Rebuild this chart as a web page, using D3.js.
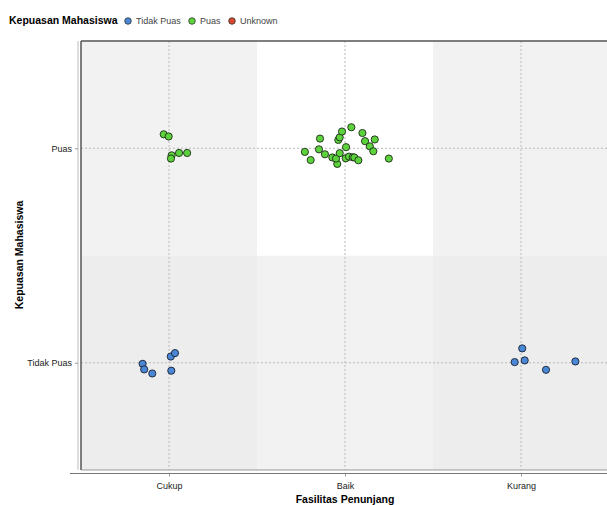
<!DOCTYPE html>
<html>
<head>
<meta charset="utf-8">
<script src="https://cdn.jsdelivr.net/npm/d3@7"></script>
<style>
  body { margin: 0; background: #fff; font-family: "Liberation Sans", Arial, sans-serif; }
  .tick text { font-size: 9px; fill: #222; }
  .grid line { stroke: #b8b8b8; stroke-dasharray: 2,2; }
</style>
</head>
<body>
<script>
var w = 607;
var h = 505;

var xCategories = ["Cukup", "Baik", "Kurang"];
var yCategories = ["Tidak Puas", "Puas"];
var legendLabels = ["Tidak Puas", "Puas", "Unknown"];
var legendColors = ["#4a88d6", "#5cd23c", "#d9482c"];

// jittered positions (category index + jitter)
var puasX = [-0.030, -0.002, 0.015, 0.011, 0.057, 0.103,
  0.772, 0.805, 0.858, 0.852, 0.886, 0.928, 0.956, 0.949, 0.970, 0.962, 0.970, 0.983,
  1.006, 1.036, 1.004, 1.023, 1.044, 1.053, 1.076, 1.099, 1.114, 1.141, 1.161, 1.169, 1.249];
var puasY = [1.065, 1.055, 0.967, 0.952, 0.978, 0.978,
  0.983, 0.945, 1.045, 0.995, 0.972, 0.957, 0.927, 0.952, 0.977, 1.039, 1.051, 1.078,
  1.005, 1.098, 0.953, 0.961, 0.958, 0.957, 0.944, 1.071, 1.033, 1.009, 0.986, 1.041, 0.952];
var tidakX = [-0.150, -0.141, -0.095, 0.010, 0.034, 0.013,
  2.007, 1.964, 2.021, 2.142, 2.309];
var tidakY = [-0.005, -0.031, -0.050, 0.029, 0.045, -0.037,
  0.067, 0.003, 0.011, -0.033, 0.006];

var pLeft = 81, pTop = 41, pRight = 609, pBottom = 470;

var svg = d3.select("body").append("svg")
    .attr("width", w)
    .attr("height", h);

var x = d3.scaleLinear().domain([-0.5, 2.5]).range([pLeft, pRight]);
var y = d3.scaleLinear().domain([-0.5, 1.5]).range([pBottom, pTop]);

// background cells
var cellFill = [["#ecedec", "#f2f2f2", "#ecedec"], ["#f2f2f2", "#ffffff", "#f2f2f2"]];
yCategories.forEach(function(yc, j) {
  xCategories.forEach(function(xc, i) {
    svg.append("rect")
      .attr("x", x(i - 0.5))
      .attr("y", y(j + 0.5))
      .attr("width", x(i + 0.5) - x(i - 0.5))
      .attr("height", y(j - 0.5) - y(j + 0.5))
      .attr("fill", cellFill[j][i]);
  });
});

// grid
var grid = svg.append("g").attr("class", "grid");
grid.selectAll(".vg").data(xCategories).enter().append("line")
  .attr("x1", function(d, i) { return x(i); })
  .attr("x2", function(d, i) { return x(i); })
  .attr("y1", pTop).attr("y2", pBottom);
grid.selectAll(".hg").data(yCategories).enter().append("line")
  .attr("y1", function(d, i) { return y(i); })
  .attr("y2", function(d, i) { return y(i); })
  .attr("x1", pLeft).attr("x2", pRight);

// frame
svg.append("line").attr("x1", pLeft).attr("x2", pLeft).attr("y1", pTop).attr("y2", pBottom)
  .attr("stroke", "#555").attr("stroke-width", 1.5);
svg.append("line").attr("x1", pLeft).attr("x2", pRight).attr("y1", pTop).attr("y2", pTop)
  .attr("stroke", "#555").attr("stroke-width", 1.5);
svg.append("line").attr("x1", pLeft).attr("x2", pRight).attr("y1", pBottom).attr("y2", pBottom)
  .attr("stroke", "#999").attr("stroke-width", 1);

// axes
var xAxis = d3.axisBottom(x).tickValues([0, 1, 2])
  .tickFormat(function(d) { return xCategories[d]; })
  .tickSize(3).tickPadding(6);
var gx = svg.append("g")
  .attr("transform", "translate(0," + (pBottom + 3.5) + ")")
  .call(xAxis);
gx.select(".domain").attr("d", "M70,0H" + pRight).attr("stroke", "#777");

var yAxis = d3.axisLeft(y).tickValues([0, 1])
  .tickFormat(function(d) { return yCategories[d]; })
  .tickSize(3).tickPadding(3);
var gy = svg.append("g")
  .attr("transform", "translate(" + (pLeft - 3) + ",0)")
  .call(yAxis);
gy.select(".domain").attr("d", "M0," + pTop + "V" + pBottom).attr("stroke", "#bbb");
svg.selectAll(".tick line").attr("stroke", "#999");

// points
var pts = svg.append("g");
pts.selectAll(".puas").data(puasX).enter().append("circle")
  .attr("cx", function(d) { return x(d); })
  .attr("cy", function(d, i) { return y(puasY[i]); })
  .attr("r", 3.6)
  .attr("fill", legendColors[1])
  .attr("stroke", "#1e2a1a").attr("stroke-width", 0.9);
pts.selectAll(".tidak").data(tidakX).enter().append("circle")
  .attr("cx", function(d) { return x(d); })
  .attr("cy", function(d, i) { return y(tidakY[i]); })
  .attr("r", 3.6)
  .attr("fill", legendColors[0])
  .attr("stroke", "#1a2030").attr("stroke-width", 0.9);

// axis titles
svg.append("text")
  .attr("x", 345).attr("y", 503)
  .attr("text-anchor", "middle")
  .style("font-size", "10.5px").style("font-weight", "bold")
  .text("Fasilitas Penunjang");
svg.append("text")
  .attr("transform", "translate(23,255) rotate(-90)")
  .attr("text-anchor", "middle")
  .style("font-size", "10.5px").style("font-weight", "bold")
  .text("Kepuasan Mahasiswa");

// legend
svg.append("text")
  .attr("x", 9).attr("y", 24)
  .style("font-size", "10.5px").style("font-weight", "bold")
  .text("Kepuasan Mahasiswa");
var legendX = [128, 192, 232];
var lg = svg.append("g").selectAll("g").data(legendLabels).enter().append("g")
  .attr("transform", function(d, i) { return "translate(" + legendX[i] + ",21)"; });
lg.append("circle").attr("r", 3.3)
  .attr("fill", function(d, i) { return legendColors[i]; })
  .attr("stroke", "#333").attr("stroke-width", 0.8);
lg.append("text").attr("x", 8).attr("y", 3.2)
  .style("font-size", "9px").style("fill", "#444")
  .text(function(d) { return d; });
</script>
</body>
</html>
